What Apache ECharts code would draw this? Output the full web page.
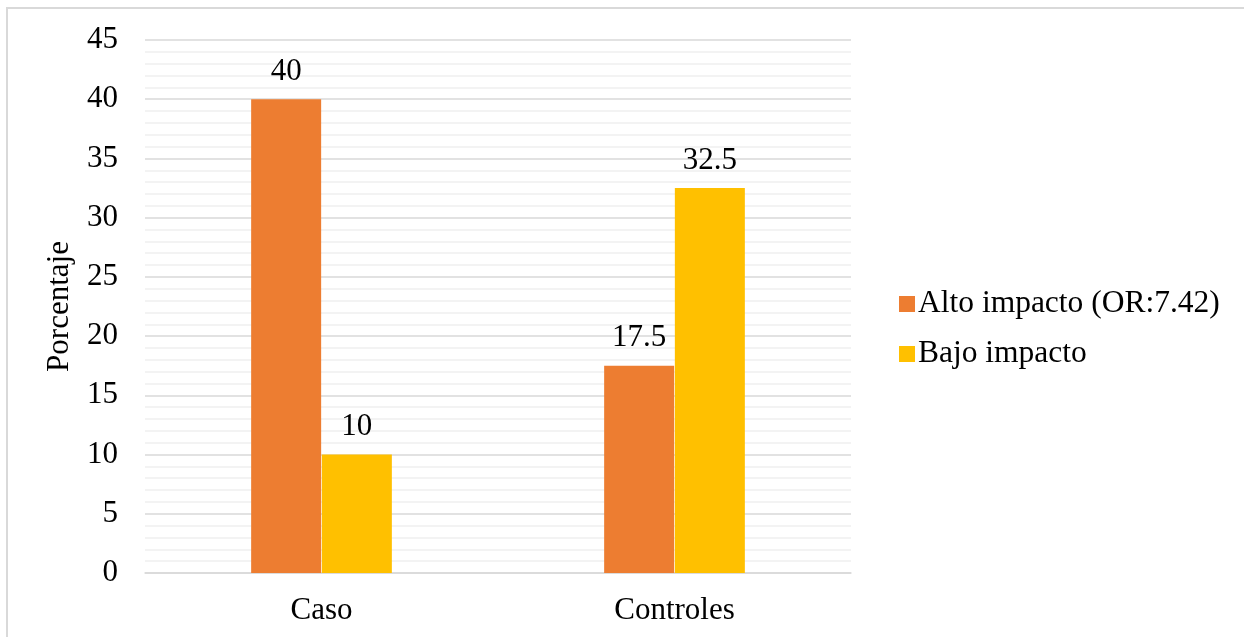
<!DOCTYPE html>
<html>
<head>
<meta charset="utf-8">
<script src="https://cdn.jsdelivr.net/npm/echarts@6/dist/echarts.min.js"></script>
<style>
  html, body { margin: 0; padding: 0; background: #fff; }
  #chart { width: 1244px; height: 637px; }
</style>
</head>
<body>
<div id="chart"></div>
<script>
// Grupos y porcentajes por nivel de impacto
const categories = ['Caso', 'Controles'];
const seriesNames = ['Alto impacto (OR:7.42)', 'Bajo impacto'];
const altoImpacto = [40, 17.5];
const bajoImpacto = [10, 32.5];
const yTicks = { min: 0, max: 45, interval: 5 };

const FONT = '"Liberation Serif", "Times New Roman", serif';
const FS = 31;
const chart = echarts.init(document.getElementById('chart'));

const labelStyle = {
  show: true,
  position: 'top',
  distance: 12,
  fontFamily: FONT,
  fontSize: FS,
  color: '#000'
};

chart.setOption({
  animation: false,
  backgroundColor: '#fff',
  graphic: [{
    type: 'rect',
    shape: { x: 7, y: 8, width: 1400, height: 800 },
    style: { fill: 'none', stroke: '#d9d9d9', lineWidth: 2 },
    silent: true
  }],
  grid: { left: 145, right: 393, top: 40, bottom: 64 },
  legend: {
    orient: 'vertical',
    left: 894,
    top: 283,
    itemWidth: 16,
    itemHeight: 16,
    itemGap: 18,
    icon: 'rect',
    textStyle: { fontFamily: FONT, fontSize: 31.5, lineHeight: 32, color: '#000', padding: [0, 0, 0, -2] },
    data: seriesNames
  },
  xAxis: {
    type: 'category',
    data: categories,
    axisLine: { show: true, lineStyle: { color: '#d9d9d9', width: 1.5 } },
    axisTick: { show: false },
    axisLabel: { fontFamily: FONT, fontSize: FS, color: '#000', margin: 22 }
  },
  yAxis: {
    type: 'value',
    name: 'Porcentaje',
    nameLocation: 'middle',
    nameGap: 70,
    nameRotate: 90,
    nameTextStyle: { fontFamily: FONT, fontSize: FS, color: '#000' },
    min: yTicks.min,
    max: yTicks.max,
    interval: yTicks.interval,
    axisLine: { show: false },
    axisTick: { show: false },
    axisLabel: { fontFamily: FONT, fontSize: FS, color: '#000', margin: 27 },
    splitLine: { show: true, lineStyle: { color: '#d9d9d9', width: 1.5 } },
    minorTick: { show: false, splitNumber: 5 },
    minorSplitLine: { show: true, lineStyle: { color: '#f0f0f0', width: 1.5 } }
  },
  series: [
    {
      name: seriesNames[0],
      type: 'bar',
      data: altoImpacto,
      barWidth: 70,
      barGap: '1%',
      itemStyle: { color: '#ED7D31' },
      label: labelStyle
    },
    {
      name: seriesNames[1],
      type: 'bar',
      data: bajoImpacto,
      barWidth: 70,
      barGap: '1%',
      itemStyle: { color: '#FFC000' },
      label: labelStyle
    }
  ]
});
</script>
</body>
</html>
